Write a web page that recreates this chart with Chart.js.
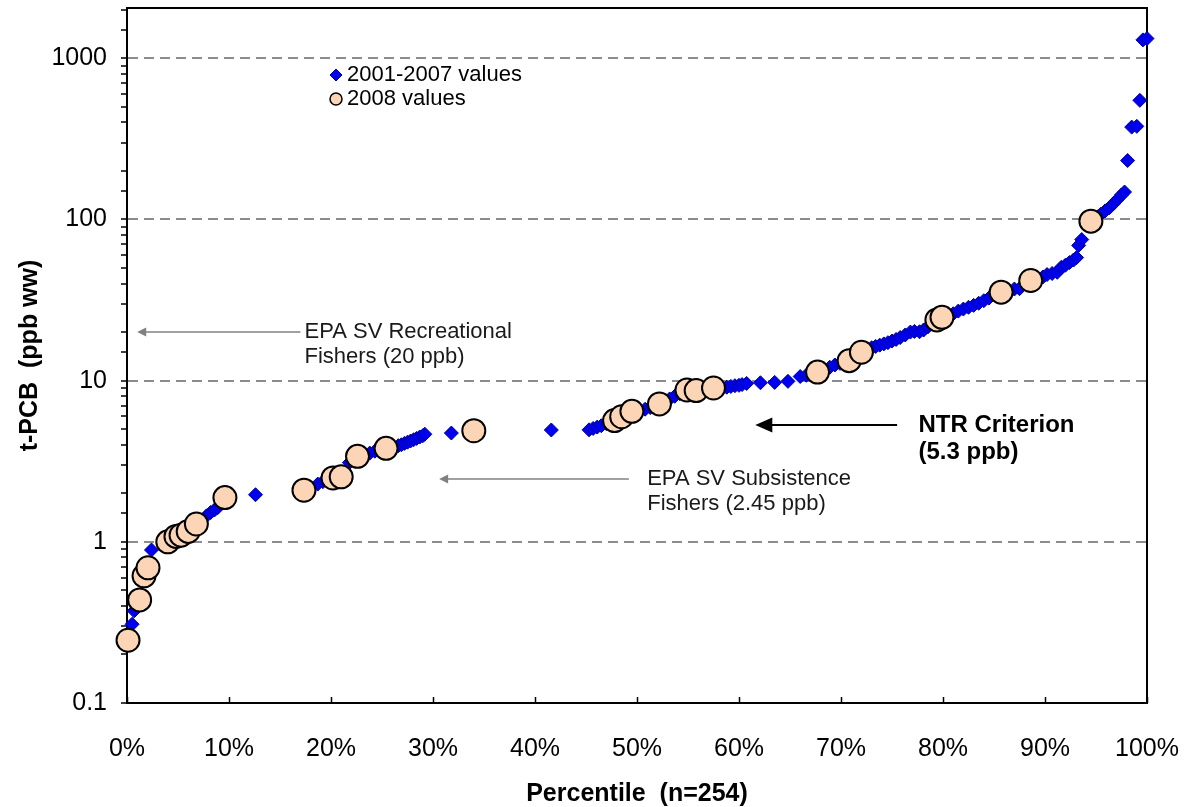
<!DOCTYPE html>
<html>
<head>
<meta charset="utf-8">
<script src="https://cdn.jsdelivr.net/npm/chart.js@4/dist/chart.umd.min.js"></script>
<style>
  html, body { margin: 0; padding: 0; background: #ffffff; }
  #wrap { width: 1184px; height: 807px; position: relative; }
</style>
</head>
<body>
<div id="wrap"><canvas id="c" width="1184" height="807"></canvas></div>
<script>
// Cumulative percentile (%) and t-PCB concentration (ppb wet weight) of fish samples
const earlierPct = [
  0.5, 0.7, 2.4, 7.8, 8.2, 8.6, 8.9, 12.6, 18.7, 19.2,
  21.8, 23.8, 24.3, 26.6, 26.9, 27.2, 27.5, 27.8, 28.1, 28.4,
  28.7, 29.0, 29.2, 31.8, 41.6, 45.3, 45.7, 46.1, 46.5, 47.0,
  50.3, 50.8, 51.3, 53.2, 53.7, 54.2, 56.5, 58.8, 59.2, 59.6,
  60.0, 60.3, 60.75, 62.1, 63.5, 64.8, 66.0, 66.6, 68.9, 69.4,
  69.9, 71.4, 73.0, 73.4, 73.8, 74.2, 74.6, 75.0, 75.4, 75.8,
  76.3, 76.8, 77.2, 77.7, 78.1, 78.5, 80.5, 81.0, 81.5, 82.0,
  82.5, 83.0, 83.5, 84.0, 84.5, 87.0, 87.5, 89.3, 89.8, 90.2,
  90.7, 91.2, 91.6, 92.0, 92.4, 92.8, 93.1, 93.3, 93.6, 95.2,
  95.5, 95.9, 96.3, 96.7, 97.1, 97.5, 97.8, 98.1, 98.5, 99.0,
  99.3, 99.6, 100
];
const earlierVal = [
  0.308, 0.373, 0.89, 1.45, 1.52, 1.58, 1.63, 1.96, 2.28, 2.36,
  3.1, 3.55, 3.65, 3.95, 4.0, 4.08, 4.15, 4.22, 4.3, 4.38,
  4.47, 4.55, 4.65, 4.73, 4.94, 4.95, 5.05, 5.15, 5.25, 5.4,
  6.5, 6.65, 6.8, 7.7, 8.0, 8.3, 8.9, 9.1, 9.2, 9.3,
  9.35, 9.45, 9.6, 9.7, 9.75, 9.9, 10.6, 10.8, 12.1, 12.5,
  12.8, 14.1, 16.0, 16.3, 16.6, 16.9, 17.2, 17.6, 18.0, 18.5,
  19.2, 20.0, 20.2, 20.1, 20.6, 21.5, 25.3, 26.0, 27.0, 27.8,
  28.5, 29.3, 30.2, 31.3, 32.5, 37.0, 37.2, 43, 44, 45.5,
  46.2, 47, 50.5, 52, 54, 56, 58, 69, 75, 104,
  108, 113, 118, 125, 133, 142, 148, 232, 374, 378,
  548, 1300, 1325
];
const recentPct = [
  0.1, 1.24, 1.67, 2.06, 4.0, 4.8, 5.3, 6.0, 6.8, 9.6,
  17.35, 20.2, 21.0, 22.6, 25.4, 34.0, 47.8, 48.5, 49.5, 52.2,
  54.9, 55.8, 57.5, 67.7, 70.8, 72.0, 79.4, 79.9, 85.7, 88.6,
  94.5
];
const recentVal = [
  0.245, 0.436, 0.615, 0.69, 1.0, 1.08, 1.1, 1.16, 1.29, 1.88,
  2.09, 2.49, 2.53, 3.39, 3.8, 4.89, 5.65, 5.97, 6.45, 7.17,
  8.75, 8.67, 9.0, 11.3, 13.3, 15.0, 23.8, 24.7, 35.4, 41.8,
  97.6
];
const seriesNames = ['2001-2007 values', '2008 values'];
const xTickLabels = ['0%', '10%', '20%', '30%', '40%', '50%', '60%', '70%', '80%', '90%', '100%'];
const yTickLabels = ['0.1', '1', '10', '100', '1000'];
const screeningValues = [20, 2.45, 5.3];
const screeningLabels = [
  ['EPA SV Recreational', 'Fishers (20 ppb)'],
  ['EPA SV Subsistence', 'Fishers (2.45 ppb)'],
  ['NTR Criterion', '(5.3 ppb)']
];

const FONT = "'Liberation Sans', Arial, sans-serif";
const BLUE = '#0000f0';
const BLUE_EDGE = '#00009a';
const PEACH = '#fbd5b5';
const Y_MAX = 2050;

function toPoints(xs, ys) {
  return xs.map((x, i) => ({ x: x, y: ys[i] }));
}
function isDecade(v) {
  const l = Math.log10(v);
  return Math.abs(l - Math.round(l)) < 1e-9;
}
// Keep the plot area fixed: labels may overhang the frame instead of shrinking it
function noOverhang(s) {
  s.paddingLeft = 0;
  s.paddingRight = 0;
  s.paddingTop = 0;
  s.paddingBottom = 0;
}

// Arrows and captions for the screening values, placed along the percentile axis
const annotationLayout = [
  { from: 17.0, to: 1.0, textAt: 17.4, color: '#808080', width: 1.5, head: 9, half: 4.5, bold: false, size: 22, gap: 25 },
  { from: 49.2, to: 30.6, textAt: 51.0, color: '#808080', width: 1.5, head: 9, half: 4.5, bold: false, size: 22, gap: 25 },
  { from: 75.5, to: 61.6, textAt: 77.6, color: '#000000', width: 2, head: 17, half: 7.5, bold: true, size: 24, gap: 27 }
];

const annotationPlugin = {
  id: 'screening',
  afterDatasetsDraw(chart) {
    const { ctx, scales: { x, y } } = chart;
    ctx.save();
    annotationLayout.forEach((a, i) => {
      const py = y.getPixelForValue(screeningValues[i]);
      const x1 = x.getPixelForValue(a.from);
      const x2 = x.getPixelForValue(a.to);
      ctx.strokeStyle = a.color;
      ctx.fillStyle = a.color;
      ctx.lineWidth = a.width;
      ctx.beginPath();
      ctx.moveTo(x1, py);
      ctx.lineTo(x2 + a.head - 1, py);
      ctx.stroke();
      ctx.beginPath();
      ctx.moveTo(x2, py);
      ctx.lineTo(x2 + a.head, py - a.half);
      ctx.lineTo(x2 + a.head, py + a.half);
      ctx.closePath();
      ctx.fill();
      ctx.fillStyle = a.bold ? '#000000' : '#1a1a1a';
      ctx.font = (a.bold ? 'bold ' : '') + a.size + 'px ' + FONT;
      ctx.textAlign = 'left';
      ctx.textBaseline = 'middle';
      const tx = x.getPixelForValue(a.textAt);
      screeningLabels[i].forEach((line, k) => {
        ctx.fillText(line, tx, py + k * a.gap);
      });
    });
    ctx.restore();
  }
};

// Plot frame, inward x ticks and the legend
const framePlugin = {
  id: 'frame',
  beforeDatasetsDraw(chart) {
    const { ctx, chartArea: a, scales: { x } } = chart;
    ctx.save();
    ctx.strokeStyle = '#000000';
    ctx.lineWidth = 2;
    ctx.beginPath();
    ctx.moveTo(a.left, a.top);
    ctx.lineTo(a.right, a.top);
    ctx.lineTo(a.right, a.bottom);
    ctx.stroke();
    ctx.lineWidth = 1.5;
    x.ticks.forEach(t => {
      const px = Math.round(x.getPixelForValue(t.value)) + 0.5;
      ctx.beginPath();
      ctx.moveTo(px, a.bottom);
      ctx.lineTo(px, a.bottom - 6);
      ctx.stroke();
    });
    ctx.restore();
  },
  afterDatasetsDraw(chart) {
    const { ctx, chartArea: a } = chart;
    const lx = a.left + 209;
    const ly = a.top + 67;
    ctx.save();
    ctx.fillStyle = BLUE;
    ctx.strokeStyle = BLUE_EDGE;
    ctx.lineWidth = 1;
    Chart.helpers.drawPoint(ctx, { pointStyle: 'rectRot', radius: 6, rotation: 0, borderWidth: 1 }, lx, ly);
    ctx.fillStyle = PEACH;
    ctx.strokeStyle = '#000000';
    ctx.lineWidth = 1.5;
    Chart.helpers.drawPoint(ctx, { pointStyle: 'circle', radius: 6, rotation: 0, borderWidth: 1.5 }, lx, ly + 24);
    ctx.fillStyle = '#000000';
    ctx.font = '22px ' + FONT;
    ctx.textAlign = 'left';
    ctx.textBaseline = 'middle';
    ctx.fillText(seriesNames[0], lx + 11, ly);
    ctx.fillText(seriesNames[1], lx + 11, ly + 24);
    ctx.restore();
  }
};

new Chart(document.getElementById('c'), {
  type: 'scatter',
  data: {
    datasets: [
      {
        label: seriesNames[1],
        data: toPoints(recentPct, recentVal),
        pointStyle: 'circle',
        pointRadius: 11.5,
        pointHoverRadius: 11.5,
        backgroundColor: PEACH,
        borderColor: '#000000',
        borderWidth: 2,
        clip: false,
        order: 0
      },
      {
        label: seriesNames[0],
        data: toPoints(earlierPct, earlierVal),
        pointStyle: 'rectRot',
        pointRadius: 7,
        pointHoverRadius: 7,
        backgroundColor: BLUE,
        borderColor: BLUE_EDGE,
        borderWidth: 1,
        clip: false,
        order: 1
      }
    ]
  },
  options: {
    responsive: false,
    animation: false,
    devicePixelRatio: 1,
    events: [],
    layout: { autoPadding: false, padding: { left: 0, top: 8, right: 37, bottom: 0 } },
    plugins: {
      legend: { display: false },
      tooltip: { enabled: false }
    },
    scales: {
      x: {
        type: 'linear',
        min: 0,
        max: 100,
        afterFit: s => { s.height = 104; noOverhang(s); },
        ticks: {
          stepSize: 10,
          maxRotation: 0,
          autoSkip: false,
          padding: 31,
          color: '#000000',
          font: { family: FONT, size: 25 },
          callback: v => xTickLabels[Math.round(v / 10)]
        },
        grid: { drawOnChartArea: false, drawTicks: false },
        border: { color: '#000000', width: 2 },
        title: {
          display: true,
          text: 'Percentile  (n=254)',
          color: '#000000',
          font: { family: FONT, size: 25, weight: 'bold', lineHeight: 1.0 },
          padding: { top: 0, bottom: 0 }
        }
      },
      y: {
        type: 'logarithmic',
        min: 0.1,
        max: Y_MAX,
        afterFit: s => { s.width = 127; noOverhang(s); },
        ticks: {
          autoSkip: false,
          padding: 14,
          color: '#000000',
          font: { family: FONT, size: 25 },
          callback: v => isDecade(v) ? yTickLabels[Math.round(Math.log10(v)) + 1] : ''
        },
        grid: {
          lineWidth: 2,
          color: c => {
            const v = c.tick ? c.tick.value : 0;
            return (isDecade(v) && v > 0.5 && v < Y_MAX) ? '#8c8c8c' : 'rgba(0,0,0,0)';
          },
          tickColor: c => {
            const v = c.tick ? c.tick.value : 0;
            return v >= Y_MAX ? 'rgba(0,0,0,0)' : '#000000';
          },
          tickLength: 6,
          tickWidth: 1.5
        },
        border: { color: '#000000', width: 2, dash: [10, 6] },
        title: {
          display: true,
          text: 't-PCB  (ppb ww)',
          color: '#000000',
          font: { family: FONT, size: 25, weight: 'bold', lineHeight: 1.0 },
          padding: { top: 18, bottom: 0 }
        }
      }
    }
  },
  plugins: [framePlugin, annotationPlugin]
});
</script>
</body>
</html>
